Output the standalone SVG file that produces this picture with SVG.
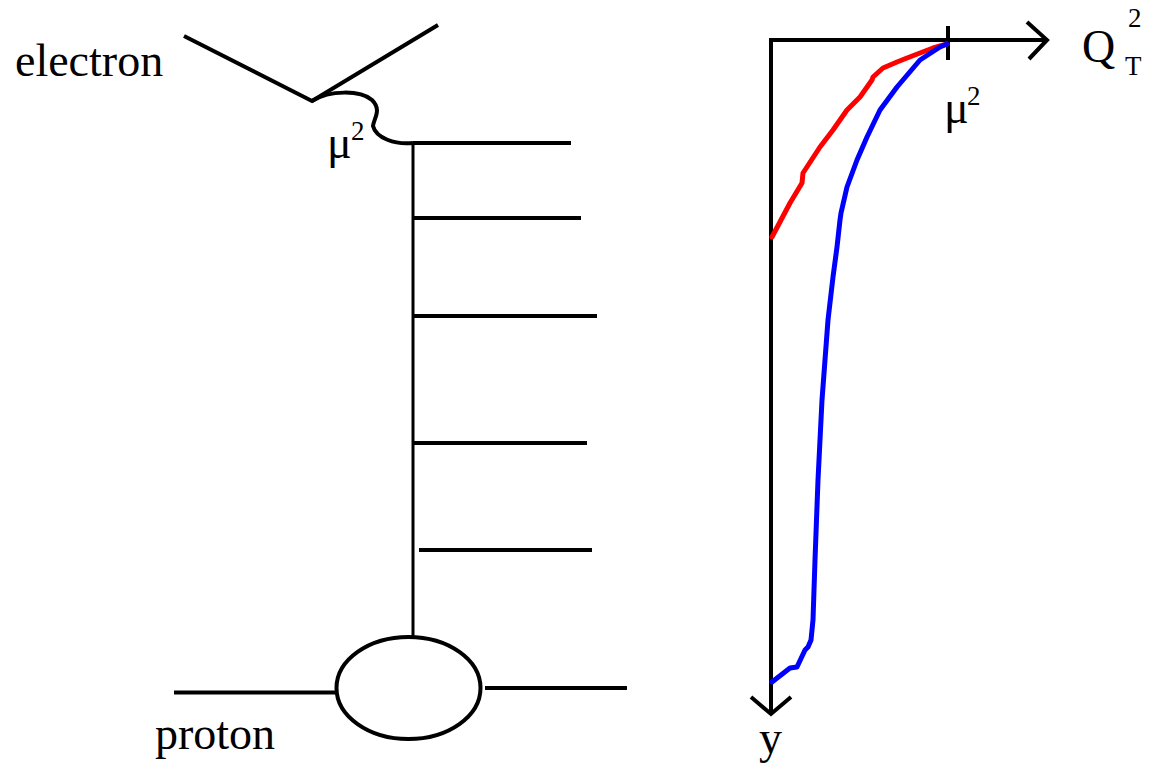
<svg xmlns="http://www.w3.org/2000/svg" width="1153" height="765" viewBox="0 0 1153 765">
<style>
.ln{stroke:#000;stroke-width:4;fill:none;stroke-linecap:butt}
.thin{stroke:#000;stroke-width:3;fill:none}
.t{fill:#000;font-family:'Liberation Serif','DejaVu Serif',serif}
.big{font-size:46px}
.sup{font-size:27px}
.cv{fill:none;stroke-width:5;stroke-linejoin:round;stroke-linecap:round}
</style>
<rect width="1153" height="765" fill="#fff"/>
<g id="electron">
<polyline class="ln" points="184,36 312,101 438,25"/>
<text class="t big" x="15" y="76">electron</text>
</g>
<g id="photon">
<path class="ln" d="M312,101 C330,90 360,90 372,100 C382,110 374,118 373,126 C376,138 395,145 413,143"/>
<text class="t big" x="327" y="158">μ</text>
<text class="t sup" x="351" y="140">2</text>
</g>
<g id="ladder">
<line class="thin" x1="413" y1="143" x2="413" y2="636"/>
<line class="ln" x1="413" y1="143" x2="571" y2="143"/>
<line class="ln" x1="413" y1="218" x2="581" y2="218"/>
<line class="ln" x1="413" y1="316" x2="597" y2="316"/>
<line class="ln" x1="413" y1="443" x2="587" y2="443"/>
<line class="ln" x1="419" y1="550" x2="592" y2="550"/>
</g>
<g id="proton">
<ellipse class="ln" cx="408.5" cy="688" rx="72" ry="51"/>
<line class="ln" x1="174" y1="692.5" x2="336" y2="692.5"/>
<line class="ln" x1="485" y1="688" x2="627" y2="688"/>
<text class="t big" x="155" y="749">proton</text>
</g>
<g id="axes">
<line class="ln" x1="771" y1="38" x2="771" y2="714"/>
<line class="ln" x1="769" y1="40" x2="1047" y2="40"/>
<polyline class="ln" points="1027,22 1047,40 1029,59"/>
<polyline class="ln" points="751,697 771,714 791,697"/>
<line class="ln" x1="948" y1="26" x2="948" y2="60"/>
<text class="t big" x="1082" y="62">Q</text>
<text class="t sup" x="1128" y="27">2</text>
<text class="t sup" x="1125" y="75">T</text>
<text class="t big" x="944" y="123">μ</text>
<text class="t sup" x="967" y="105">2</text>
<text class="t big" x="759" y="753">y</text>
</g>
<g id="curves">
<polyline class="cv" stroke="#f00" points="772,237 790,203 802,183 803,173 820,147 833,130 847,110 860,97 872,80 873,77 883,68 897,62 907,58 933,48 947,44"/>
<polyline class="cv" stroke="#00f" points="947,44 940,47 920,60 897,87 880,110 867,137 857,160 847,187 841,213 840,220 837,247 833,277 828,320 822,400 818,480 815,560 813,620 811,640 808,647 805,650 797,667 790,668 772,682"/>
</g>
</svg>
